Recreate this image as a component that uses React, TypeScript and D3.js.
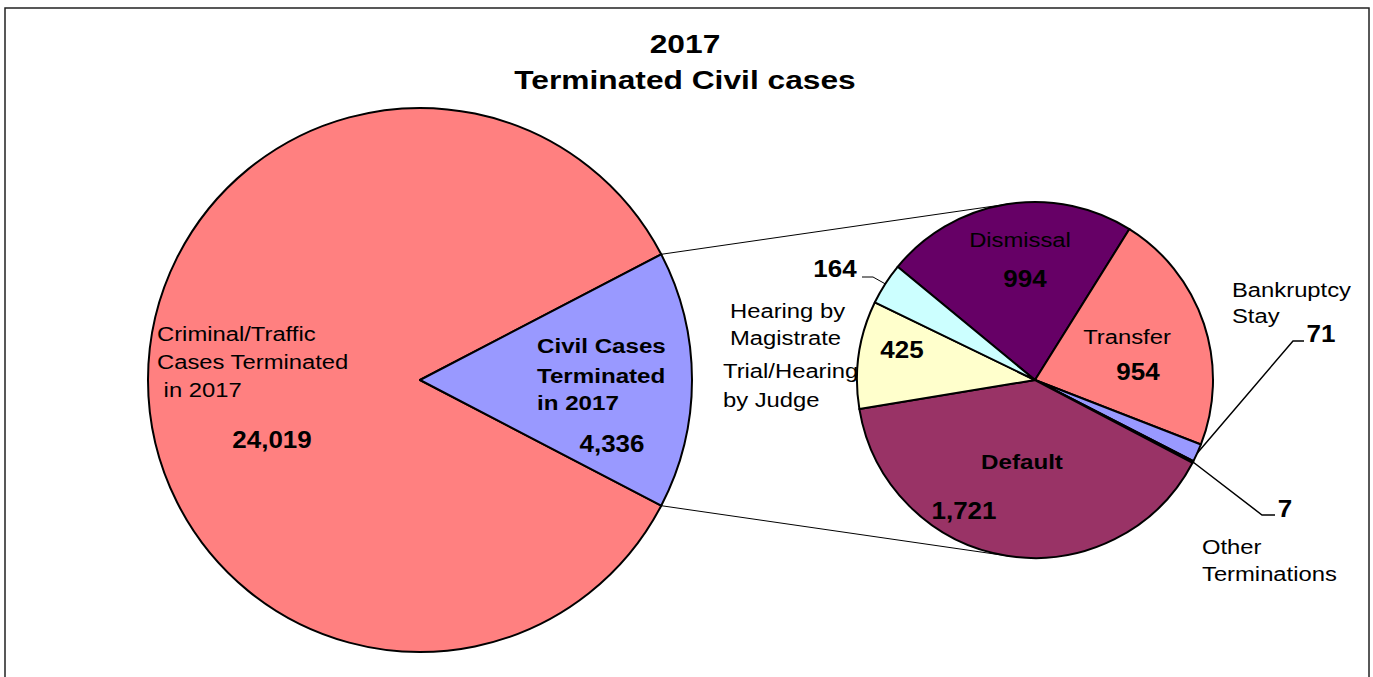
import React from 'react';
import * as d3 from 'd3';

// main pie
const mainCategories = ['Criminal/Traffic Cases Terminated in 2017', 'Civil Cases Terminated in 2017'];
const mainValues = [24019, 4336];
const mainColors = ['#FF8080', '#9999FF'];

// breakdown of civil cases (secondary pie)
const civilCategories = ['Dismissal', 'Transfer', 'Bankruptcy Stay', 'Other Terminations', 'Default', 'Trial/Hearing by Judge', 'Hearing by Magistrate'];
const civilValues = [994, 954, 71, 7, 1721, 425, 164];
const civilColors = ['#660066', '#FF8080', '#9999FF', '#0066CC', '#993366', '#FFFFCC', '#CCFFFF'];

const W = 1373;
const H = 677;
const FONT = '"Liberation Sans", Arial, sans-serif';

const big = { cx: 420, cy: 380, r: 272 };
const small = { cx: 1035, cy: 380, r: 178 };
const smallStart = (-50.5 * Math.PI) / 180;

type TProps = { x: number; y: number; size: number; bold?: boolean; anchor?: string; sx?: number; children: React.ReactNode };
const T = ({ x, y, size, bold, anchor = 'start', sx = 1.19, children }: TProps) => (
  <text
    transform={`translate(${x},${y}) scale(${sx},1)`}
    fontSize={size}
    fontWeight={bold ? 'bold' : 'normal'}
    textAnchor={anchor}
    fontFamily={FONT}
    fill="#000"
  >
    {children}
  </text>
);

const fmt = d3.format(',');

export default function App() {
  const total = d3.sum(mainValues);
  const civilShare = mainValues[1] / total;
  const bigStart = Math.PI / 2 + Math.PI * civilShare;
  const bigPie = d3.pie<number>().sort(null).value(d => d).startAngle(bigStart).endAngle(bigStart + 2 * Math.PI);
  const bigArcs = bigPie(mainValues);
  const bigArc = d3.arc<d3.PieArcDatum<number>>().innerRadius(0).outerRadius(big.r);

  const smallPie = d3.pie<number>().sort(null).value(d => d).startAngle(smallStart).endAngle(smallStart + 2 * Math.PI);
  const smallArcs = smallPie(civilValues);
  const smallArc = d3.arc<d3.PieArcDatum<number>>().innerRadius(0).outerRadius(small.r);

  // connector lines: from edges of civil slice, tangent to the secondary pie
  const civil = bigArcs[1];
  const edgePt = (a: number, c: { cx: number; cy: number; r: number }) => [c.cx + c.r * Math.sin(a), c.cy - c.r * Math.cos(a)];
  const tangent = (p: number[], upper: boolean) => {
    const dx = small.cx - p[0];
    const dy = small.cy - p[1];
    const d = Math.hypot(dx, dy);
    const base = Math.atan2(dy, dx);
    const off = Math.asin(small.r / d);
    const ang = upper ? base - off : base + off;
    const len = Math.sqrt(d * d - small.r * small.r);
    return [p[0] + len * Math.cos(ang), p[1] + len * Math.sin(ang)];
  };
  const pTop = edgePt(civil.startAngle, big);
  const pBot = edgePt(civil.endAngle, big);
  const tTop = tangent(pTop, true);
  const tBot = tangent(pBot, false);

  const mid = (a: d3.PieArcDatum<number>) => edgePt((a.startAngle + a.endAngle) / 2, small);
  const bk = mid(smallArcs[2]);
  const ot = mid(smallArcs[3]);
  const hm = mid(smallArcs[6]);
  const line = d3.line();

  return (
    <svg width={W} height={H} style={{ position: 'absolute', left: 0, top: 0, background: '#fff' }}>
      <rect x={5} y={8} width={1364} height={H + 10} fill="#fff" stroke="#222" strokeWidth={1.5} />

      <T x={685} y={53} size={26} bold anchor="middle" sx={1.22}>2017</T>
      <T x={685} y={89} size={26} bold anchor="middle" sx={1.22}>Terminated Civil cases</T>

      <line x1={pTop[0]} y1={pTop[1]} x2={tTop[0]} y2={tTop[1]} stroke="#000" strokeWidth={1} />
      <line x1={pBot[0]} y1={pBot[1]} x2={tBot[0]} y2={tBot[1]} stroke="#000" strokeWidth={1} />

      <g transform={`translate(${big.cx},${big.cy})`}>
        {bigArcs.map((a, i) => (
          <path key={mainCategories[i]} d={bigArc(a) || ''} fill={mainColors[i]} stroke="#000" strokeWidth={2} strokeLinejoin="round" />
        ))}
      </g>

      <g transform={`translate(${small.cx},${small.cy})`}>
        {smallArcs.map((a, i) => (
          <path key={civilCategories[i]} d={smallArc(a) || ''} fill={civilColors[i]} stroke="#000" strokeWidth={2} strokeLinejoin="round" />
        ))}
      </g>

      {/* leader lines */}
      <path d={line([[bk[0], bk[1]], [1293, 341], [1304, 341]]) || ''} fill="none" stroke="#000" strokeWidth={1.5} />
      <path d={line([[ot[0], ot[1]], [1262, 515], [1275, 515]]) || ''} fill="none" stroke="#000" strokeWidth={1.5} />
      <path d={line([[hm[0], hm[1]], [873, 277], [862, 277]]) || ''} fill="none" stroke="#000" strokeWidth={1} />

      {/* main pie labels */}
      <T x={157} y={341} size={20}>Criminal/Traffic</T>
      <T x={157} y={369} size={20}>Cases Terminated</T>
      <T x={157} y={397} size={20}>{'\u00a0in 2017'}</T>
      <T x={272} y={448} size={23} bold anchor="middle" sx={1.13}>{fmt(mainValues[0])}</T>

      <T x={537} y={353} size={21} bold sx={1.15}>Civil Cases</T>
      <T x={537} y={383} size={21} bold sx={1.15}>Terminated</T>
      <T x={537} y={410} size={21} bold sx={1.15}>in 2017</T>
      <T x={612} y={452} size={23} bold anchor="middle" sx={1.13}>{fmt(mainValues[1])}</T>

      {/* secondary pie labels */}
      <T x={1020} y={247} size={20} anchor="middle">Dismissal</T>
      <T x={1025} y={287} size={23} bold anchor="middle" sx={1.13}>{fmt(civilValues[0])}</T>
      <T x={1127} y={344} size={20} anchor="middle">Transfer</T>
      <T x={1138} y={380} size={23} bold anchor="middle" sx={1.13}>{fmt(civilValues[1])}</T>
      <T x={1232} y={297} size={20}>Bankruptcy</T>
      <T x={1232} y={323} size={20}>Stay</T>
      <T x={1321} y={342} size={23} bold anchor="middle" sx={1.13}>{fmt(civilValues[2])}</T>
      <T x={1285} y={517} size={23} bold anchor="middle" sx={1.13}>{fmt(civilValues[3])}</T>
      <T x={1202} y={554} size={20}>Other</T>
      <T x={1202} y={581} size={20}>Terminations</T>
      <T x={1022} y={469} size={21} bold anchor="middle" sx={1.15}>Default</T>
      <T x={964} y={519} size={23} bold anchor="middle" sx={1.13}>{fmt(civilValues[4])}</T>
      <T x={902} y={358} size={23} bold anchor="middle" sx={1.13}>{fmt(civilValues[5])}</T>
      <T x={723} y={378} size={20}>Trial/Hearing</T>
      <T x={723} y={407} size={20}>by Judge</T>
      <T x={835} y={277} size={23} bold anchor="middle" sx={1.13}>{fmt(civilValues[6])}</T>
      <T x={730} y={318} size={20}>Hearing by</T>
      <T x={730} y={345} size={20}>Magistrate</T>
    </svg>
  );
}
